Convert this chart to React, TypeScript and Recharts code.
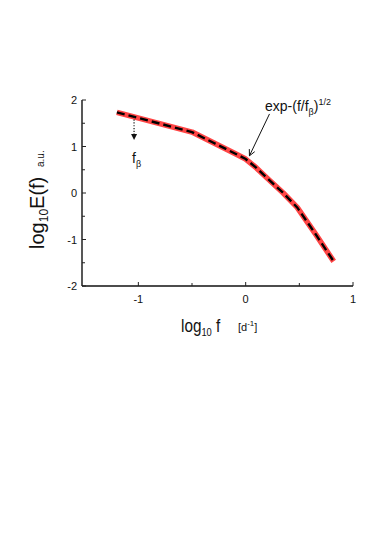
import React from 'react';
import { LineChart, Line, XAxis, YAxis, ReferenceLine, Customized } from 'recharts';

// Data
const logF = [-1.2, -0.5, -0.3, -0.1, 0, 0.1, 0.2, 0.35, 0.48, 0.65, 0.82];
const logE = [1.735, 1.31, 1.08, 0.85, 0.73, 0.54, 0.32, 0.0, -0.31, -0.88, -1.47];
const xTicks = [-1, -0.5, 0, 0.5, 1];
const yTicks = [-2, -1.5, -1, -0.5, 0, 0.5, 1, 1.5, 2];
const xDomain = [-1.525, 1];
const yDomain = [-2, 2];
const fBeta = -1.04;
const fBetaArrow = [1.64, 1.14];
const expArrowFrom = { x: 0.222, y: 1.7 };
const expArrowTo = { x: 0.035, y: 0.8 };

const data = logF.map((x, i) => ({ x, y: logE[i] }));

const FONT = '"Liberation Sans", Arial, Helvetica, sans-serif';
const INK = '#111';
const isInt = (v: number) => Math.abs(v - Math.round(v)) < 1e-9;
const fmt = (v: number) => (v < 0 ? '-' + Math.abs(v) : String(v));

const XTick = (props: any) => {
  const { x, y, payload } = props;
  const v = payload.value as number;
  const major = isInt(v);
  return (
    <g>
      <line x1={x} y1={y} x2={x} y2={y - (major ? 4 : 3)} stroke="#222" strokeWidth={1} />
      {major && (
        <text x={x} y={y + 17} textAnchor="middle" fontSize={11} fontFamily={FONT} fill={INK}>
          {fmt(v)}
        </text>
      )}
    </g>
  );
};

const YTick = (props: any) => {
  const { x, y, payload } = props;
  const v = payload.value as number;
  const major = isInt(v);
  return (
    <g>
      <line x1={x} y1={y} x2={x + (major ? 4 : 3)} y2={y} stroke="#222" strokeWidth={1} />
      {major && (
        <text x={x - 5} y={y + 4} textAnchor="end" fontSize={11} fontFamily={FONT} fill={INK}>
          {fmt(v)}
        </text>
      )}
    </g>
  );
};

const arrowShape = (dotted: boolean, filled: boolean) => (props: any) => {
  const { x1, y1, x2, y2 } = props;
  const dx = x2 - x1;
  const dy = y2 - y1;
  const len = Math.sqrt(dx * dx + dy * dy) || 1;
  const ux = dx / len;
  const uy = dy / len;
  const h = 6;
  const w = 3;
  const bx = x2 - ux * h;
  const by = y2 - uy * h;
  const lx = bx - uy * w;
  const ly = by + ux * w;
  const rx = bx + uy * w;
  const ry = by - ux * w;
  return (
    <g>
      <line
        x1={x1}
        y1={y1}
        x2={filled ? bx : x2}
        y2={filled ? by : y2}
        stroke="#111"
        strokeWidth={dotted ? 1.2 : 1}
        strokeDasharray={dotted ? '1.2 1.6' : undefined}
      />
      {filled ? (
        <path d={`M${lx},${ly} L${x2},${y2} L${rx},${ry} Z`} fill="#111" />
      ) : (
        <path d={`M${lx},${ly} L${x2},${y2} L${rx},${ry}`} fill="none" stroke="#111" strokeWidth={1} />
      )}
    </g>
  );
};

const Labels = () => (
  <g fontFamily={FONT}>
    {/* y axis title */}
    <g transform="translate(44,249) rotate(-90)">
      <text x={0} y={0} fontSize={20} fill={INK}>
        log
        <tspan fontSize={12} dy={4} fill={INK}>10</tspan>
        <tspan fontSize={20} dy={-4} fill={INK}>E(f)</tspan>
      </text>
    </g>
    <g transform="translate(44,167) rotate(-90)">
      <text x={0} y={0} fontSize={10} fill={INK}>a.u.</text>
    </g>
    {/* x axis title */}
    <g transform="translate(181,332) scale(0.85,1)">
      <text x={0} y={0} fontSize={18} fill={INK}>
        log
        <tspan fontSize={11} dy={4} fill={INK}>10</tspan>
        <tspan fontSize={18} dy={-4} fill={INK}> f</tspan>
      </text>
    </g>
    <text x={238} y={331} fontSize={11} fill={INK}>
      [d<tspan fontSize={8} dy={-5} fill={INK}>-1</tspan>
      <tspan fontSize={11} dy={5} fill={INK}>]</tspan>
    </text>
    {/* f_beta */}
    <text x={132} y={163} fontSize={14} fill={INK}>
      f<tspan fontSize={9} dy={4} fill={INK}>β</tspan>
    </text>
    {/* exp label */}
    <text x={265} y={111} fontSize={14} fill={INK}>
      exp-(f/f<tspan fontSize={9} dy={4} fill={INK}>β</tspan>
      <tspan fontSize={14} dy={-4} fill={INK}>)</tspan>
      <tspan fontSize={9} dy={-6} fill={INK}>1/2</tspan>
    </text>
  </g>
);

export default function App() {
  return (
    <div style={{ position: 'absolute', left: 0, top: 0, width: 374, height: 536, background: '#fff' }}>
      <LineChart width={374} height={536} data={data} margin={{ top: 100, right: 21, bottom: 249, left: 81 }}>
        <XAxis
          type="number"
          dataKey="x"
          domain={xDomain}
          ticks={xTicks}
          allowDataOverflow
          height={1}
          tickSize={0}
          tickMargin={0}
          tickLine={false}
          tick={<XTick />}
          axisLine={{ stroke: '#111', strokeWidth: 1.4 }}
          interval={0}
        />
        <YAxis
          type="number"
          dataKey="y"
          domain={yDomain}
          ticks={yTicks}
          allowDataOverflow
          width={1}
          tickSize={0}
          tickMargin={0}
          tickLine={false}
          tick={<YTick />}
          axisLine={{ stroke: '#111', strokeWidth: 1.4 }}
          interval={0}
        />
        <Line
          type="linear"
          dataKey="y"
          stroke="#ff4545"
          strokeWidth={5.5}
          dot={false}
          isAnimationActive={false}
          strokeLinejoin="round"
        />
        <Line
          type="linear"
          dataKey="y"
          stroke="#000"
          strokeWidth={2.4}
          strokeDasharray="8 4"
          dot={false}
          isAnimationActive={false}
        />
        <ReferenceLine
          segment={[
            { x: fBeta, y: fBetaArrow[0] },
            { x: fBeta, y: fBetaArrow[1] },
          ]}
          shape={arrowShape(true, true)}
          ifOverflow="visible"
        />
        <ReferenceLine
          segment={[expArrowFrom, expArrowTo]}
          shape={arrowShape(false, false)}
          ifOverflow="visible"
        />
        <Customized component={Labels} />
      </LineChart>
    </div>
  );
}
